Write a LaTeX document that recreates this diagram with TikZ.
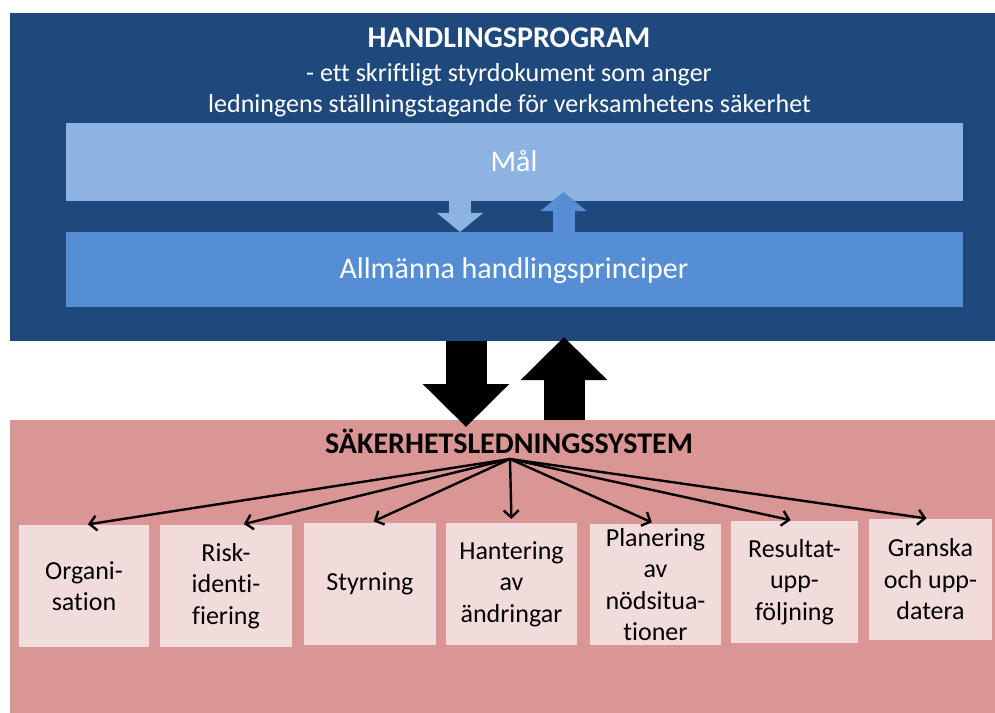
\documentclass[tikz,border=0pt]{standalone}
\usepackage{fontspec}
\setmainfont{Carlito}[Ligatures={NoCommon,NoContextual}]
\usepackage{xcolor}
\usetikzlibrary{arrows.meta,positioning}

\definecolor{progblue}{HTML}{1F497D}
\definecolor{malblue}{HTML}{8DB3E2}
\definecolor{prinblue}{HTML}{558ED5}
\definecolor{sysred}{HTML}{D99694}
\definecolor{partpink}{HTML}{F2DCDB}

\begin{document}
\begin{tikzpicture}[
  x=1bp, y=-1bp,
  band/.style={inner sep=0pt, outer sep=0pt},
  part/.style={fill=partpink, inner sep=0pt, outer sep=0pt, align=center,
               minimum width=130bp, minimum height=122bp,
               font=\fontsize{26bp}{31.5bp}\selectfont},
  headtext/.style={anchor=base, text=white, inner sep=0pt},
  smallarrow/.style={line width=22bp, -{Triangle[length=19bp, width=45bp]}},
  bigarrow/.style={line width=41bp, -{Triangle[length=43bp, width=84bp]}},
  link/.style={line width=2.4bp, -{Straight Barb[length=7bp, width=15bp]},
               shorten >=4bp},
]
\useasboundingbox (0,0) rectangle (995,713);

% === Handlingsprogram ===
\node[band, fill=progblue, minimum width=985bp, minimum height=328bp]
  (prog) at (502.5,177) {};
\node[headtext, font=\fontsize{30bp}{36bp}\selectfont\bfseries] (progtitle)
  at (509,48) {HANDLINGSPROGRAM};
\node[headtext, font=\fontsize{26bp}{31bp}\selectfont] (progline1)
  at (509,82) {- ett skriftligt styrdokument som anger};
\node[headtext, font=\fontsize{26bp}{31bp}\selectfont] (progline2)
  at (509.5,113) {ledningens ställningstagande för verksamhetens säkerhet};

\node[band, fill=malblue, minimum width=897bp, minimum height=78bp]
  (mal) at (514.5,162) {};
\node[headtext, font=\fontsize{30bp}{36bp}\selectfont] (maltext)
  at (514,172) {Mål};

\node[band, fill=prinblue, minimum width=897bp, minimum height=75bp]
  (prin) at (514.5,269.5) {};
\node[headtext, font=\fontsize{30bp}{36bp}\selectfont] (printext)
  at (514,278) {Allmänna handlingsprinciper};

% small arrows between Mål and principer
\draw[smallarrow, malblue] (460,0 |- mal.south) -- (460,0 |- prin.north);
\draw[smallarrow, prinblue, shorten >=-9bp] (563.5,0 |- prin.north)
  -- (563.5,0 |- mal.south);

% === Säkerhetsledningssystem ===
\node[band, fill=sysred, minimum width=985bp, minimum height=295bp]
  (sys) at (502.5,567.5) {};

\draw[bigarrow, shorten >=-7bp] (466,0 |- prog.south) -- (466,0 |- sys.north);
\draw[bigarrow, shorten >=-4bp] (564,0 |- sys.north) -- (564,0 |- prog.south);

\node[anchor=base, inner sep=0pt, font=\fontsize{30bp}{36bp}\selectfont\bfseries]
  (systitle) at (509,453) {SÄKERHETSLEDNINGSSYSTEM};
\coordinate (hub) at (510,459);

% === Parts ===
\node[part] (organ) at (84,586) {Organi-\\sation};
\node[part, minimum width=132bp] (risk) at (226,586) {Risk-\\identi-\\fiering};
\node[part, minimum width=132bp] (styr) at (370,584) {Styrning};
\node[part, minimum width=131bp] (andr) at (511.5,584) {Hantering\\av\\ändringar};
\node[part, minimum width=131bp, minimum height=121bp] (nod) at (655.5,584.5)
  {Planering\\av\\nödsitua-\\tioner};
\node[part, minimum width=127bp] (resu) at (794.5,582) {Resultat-\\upp-\\följning};
\node[part, minimum width=123bp, minimum height=121bp] (gran) at (930.5,579.5)
  {Granska\\och upp-\\datera};

\draw[link] (hub) -- (organ.north);
\draw[link] (hub) -- ([xshift=14bp]risk.north);
\draw[link] (hub) -- (styr.north);
\draw[link] (hub) -- (andr.north);
\draw[link] (hub) -- (nod.north);
\draw[link] (hub) -- (resu.north);
\draw[link] (hub) -- (gran.north);

\end{tikzpicture}
\end{document}
